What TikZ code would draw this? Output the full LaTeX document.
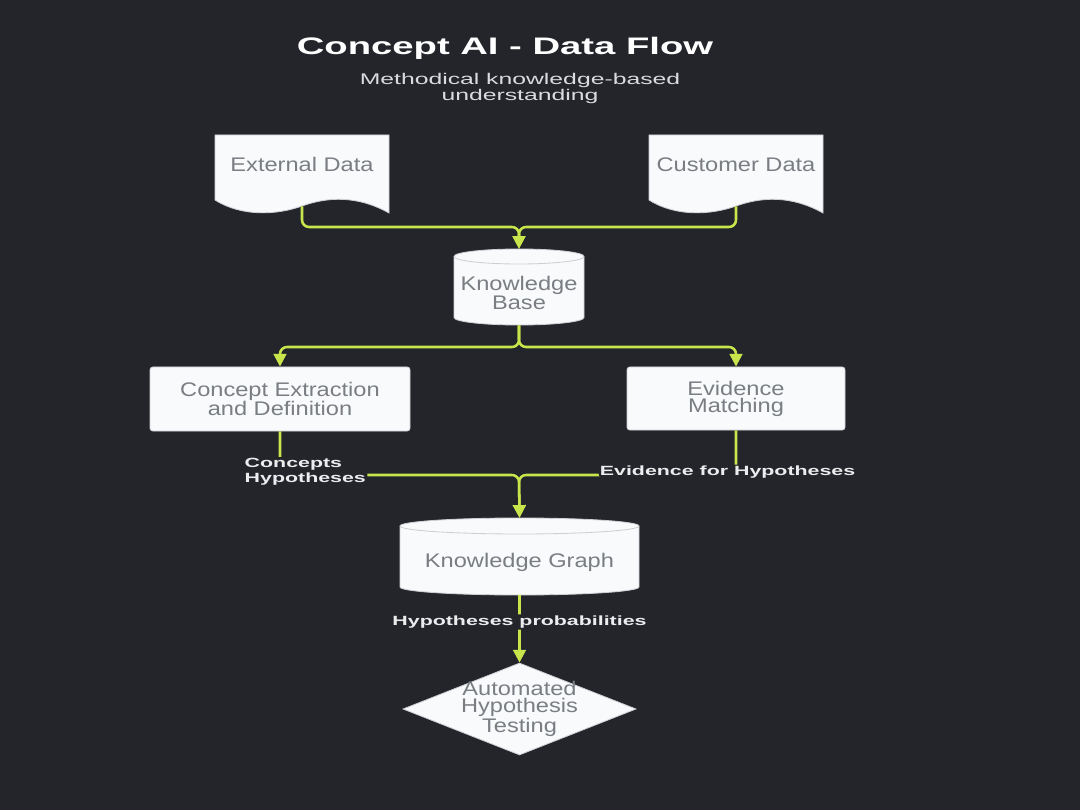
\documentclass[tikz,border=0pt]{standalone}
\usepackage{fontspec}
\setmainfont{Liberation Sans}[FakeStretch=1.2]
\newfontfamily\widefont{Liberation Sans}[FakeStretch=1.6]
\usepackage{tikz}
\usetikzlibrary{arrows.meta, positioning, calc, shapes.geometric}
\definecolor{fond}{RGB}{35,37,43}
\definecolor{citron}{RGB}{200,230,76}
\definecolor{blanc}{RGB}{248,250,252}
\definecolor{bord}{RGB}{205,207,212}
\definecolor{gris}{RGB}{122,125,130}
\definecolor{clair}{RGB}{236,236,238}

\begin{document}
\begin{tikzpicture}[x=0.25mm, y=0.25mm,
  forme/.style={fill=blanc, draw=bord, line width=0.6pt},
  txt/.style={text=gris, font=\fontsize{14}{12}\selectfont, align=center},
  zone/.style 2 args={minimum width=#1*0.25mm, minimum height=#2*0.25mm, inner sep=0pt},
  boite/.style={forme, txt, rounded corners=2pt},
  flux/.style={draw=citron, line width=1.8pt, rounded corners=5pt, -{Triangle[length=9pt, width=9pt]}},
  etiq/.style={fill=fond, text=clair, font=\widefont\bfseries\fontsize{9.5}{10.7}\selectfont, align=left, inner sep=1pt}]

	% fond
	\fill[fond] (0,0) rectangle (1080,-810);

	% titre
	\node[text=white, font=\widefont\bfseries\fontsize{17}{20}\selectfont] (titre) at (505,-48) {Concept AI - Data Flow};
	\node[text=clair!85!gris, font=\widefont\fontsize{11}{12}\selectfont, align=center] (soustitre) at (520,-88.5) {Methodical knowledge-based\\understanding};

	% documents
	\path[forme] (215,-135) -- (389,-135) -- (389,-213) .. controls (357,-195) and (327,-197) .. (302,-206) .. controls (277,-215) and (242,-217) .. (215,-200) -- cycle;
	\node[zone={174}{71}, label={[txt, yshift=4pt]center:External Data}] (ext) at (302,-170.5) {};
	\path[forme] (649,-135) -- (823,-135) -- (823,-213) .. controls (791,-195) and (761,-197) .. (736,-206) .. controls (711,-215) and (676,-217) .. (649,-200) -- cycle;
	\node[zone={174}{71}, label={[txt, yshift=4pt]center:Customer Data}] (cust) at (736,-170.5) {};

	% base de connaissances
	\path[forme] (454,-256.5) -- (454,-317.5) arc[start angle=180, end angle=360, x radius=65, y radius=7.5]
		-- (584,-256.5) arc[start angle=0, end angle=180, x radius=65, y radius=7.5] -- cycle;
	\draw[bord, line width=0.6pt] (454,-256.5) arc[start angle=180, end angle=360, x radius=65, y radius=7.5];
	\node[zone={130}{76}, label={[txt, yshift=-4pt]center:Knowledge\\Base}] (kb) at (519,-287) {};

	% traitements
	\node[boite, zone={260}{64}] (ce) at (280,-399) {Concept Extraction\\and Definition};
	\node[boite, zone={218}{63}] (em) at (736,-398.5) {Evidence\\Matching};

	% graphe
	\path[forme] (400,-526) -- (400,-587) arc[start angle=180, end angle=360, x radius=119.5, y radius=8]
		-- (639,-526) arc[start angle=0, end angle=180, x radius=119.5, y radius=8] -- cycle;
	\draw[bord, line width=0.6pt] (400,-526) arc[start angle=180, end angle=360, x radius=119.5, y radius=8];
	\node[zone={239}{77}, label={[txt, yshift=-4pt]center:Knowledge Graph}] (kg) at (519.5,-556.5) {};

	% test
	\node[diamond, forme, zone={233}{92}, label={[txt]center:Automated\\Hypothesis\\Testing}] (aht) at (519.5,-709) {};

	% flux
	\coordinate (kbin) at (519,-227);
	\draw[flux] (ext.south) |- (kbin) -- (kb.north);
	\draw[flux] (cust.south) |- (kbin) -- (kb.north);
	\coordinate (kbout) at (519,-347);
	\draw[flux] (kb.south) -- (kbout) -| (ce.north);
	\draw[flux] (kb.south) -- (kbout) -| (em.north);
	\coordinate (kgin) at (519,-475);
	\draw[flux] (ce.south) |- node[etiq, pos=0.5, xshift=18pt, yshift=2pt] {Concepts\\Hypotheses} (kgin) -- (kg.north);
	\draw[flux] (em.south) |- node[etiq, pos=0.5, xshift=-6pt, yshift=2pt] {Evidence for Hypotheses} (kgin) -- (kg.north);
	\draw[flux] (kg.south) -- node[etiq, pos=0.5, yshift=5pt] {Hypotheses probabilities} (aht.north);
\end{tikzpicture}
\end{document}
